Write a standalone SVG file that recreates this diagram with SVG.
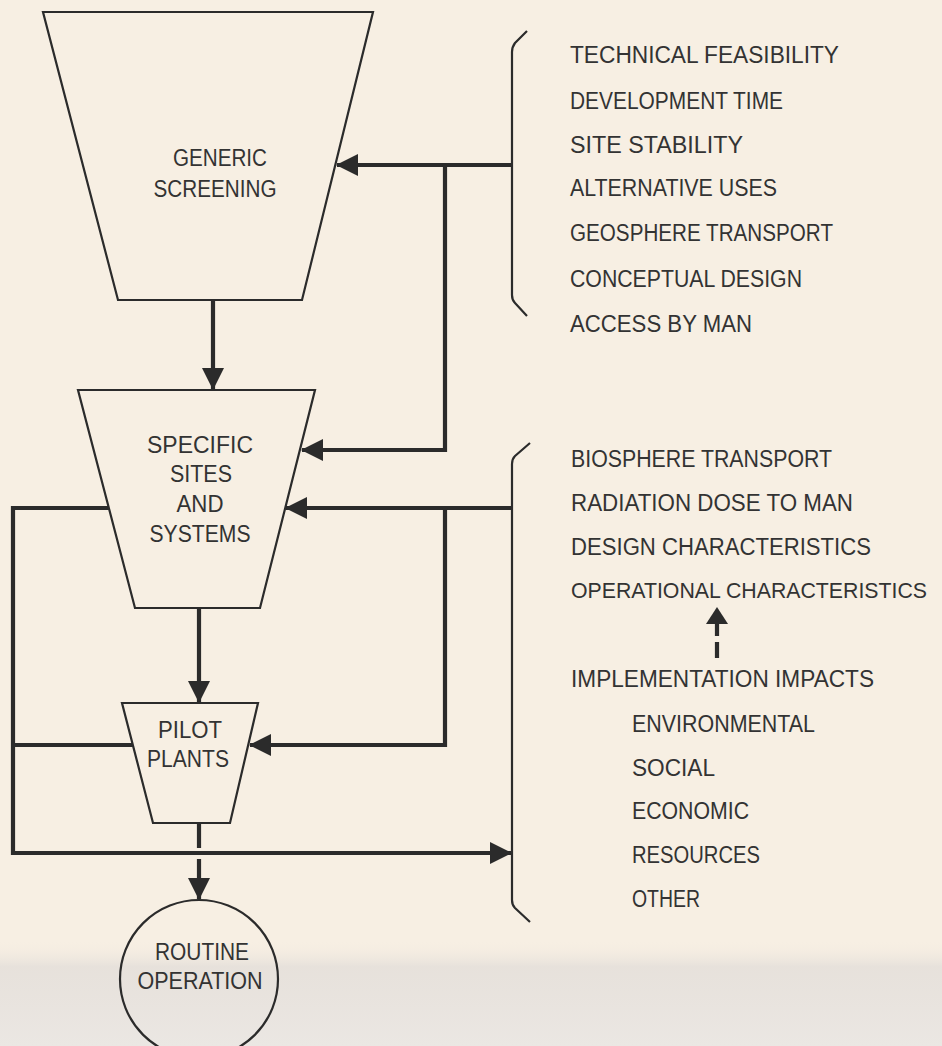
<svg xmlns="http://www.w3.org/2000/svg" width="942" height="1046" viewBox="0 0 942 1046">
<defs>
<linearGradient id="shade" x1="0" y1="0" x2="0" y2="1">
<stop offset="0" stop-color="#f6eee2" stop-opacity="0"/>
<stop offset="0.25" stop-color="#e4dfda" stop-opacity="0.85"/>
<stop offset="1" stop-color="#ebe7e3" stop-opacity="1"/>
</linearGradient>
<marker id="ah" markerUnits="userSpaceOnUse" markerWidth="22" markerHeight="22" viewBox="0 0 22 22" refX="21" refY="11" orient="auto">
<path d="M0,0 L22,11 L0,22 Z" fill="#2b2b2b"/>
</marker>
<style>
.shape{fill:none;stroke:#2b2b2b;stroke-width:2.2;stroke-linejoin:miter}
.conn{fill:none;stroke:#2b2b2b;stroke-width:4.2}
.brace{fill:none;stroke:#2b2b2b;stroke-width:2.2}
text{font-family:"Liberation Sans","DejaVu Sans",sans-serif;font-size:23.5px;fill:#333}
.c{text-anchor:middle}
.long{font-size:21.2px}
</style>
</defs>
<rect x="0" y="0" width="942" height="1046" fill="#f7efe3"/>
<rect x="0" y="940" width="942" height="106" fill="url(#shade)"/>

<g id="connectors">
<path class="conn" d="M213,300 V389" marker-end="url(#ah)"/>
<path class="conn" d="M512,165 H337" marker-end="url(#ah)"/>
<path class="conn" d="M445,165 V450 H302" marker-end="url(#ah)"/>
<path class="conn" d="M512,508 H286" marker-end="url(#ah)"/>
<path class="conn" d="M445,508 V745 H250" marker-end="url(#ah)"/>
<path class="conn" d="M199,608 V702" marker-end="url(#ah)"/>
<path class="conn" d="M109,508 H13 V853 H511" marker-end="url(#ah)"/>
<path class="conn" d="M133,745 H13"/>
<path class="conn" d="M199,823 V848"/>
<path class="conn" d="M199,859 V899" marker-end="url(#ah)"/>
<path class="conn" d="M717,658 V642 M717,636 V622"/>
<path d="M706,624 L717,607 L728,624 Z" fill="#2b2b2b"/>
</g>

<g id="generic-screening">
<path class="shape" d="M43,12 H373 L302,300 H118 Z"/>
<text class="c" x="220" y="166" textLength="94" lengthAdjust="spacingAndGlyphs">GENERIC</text>
<text class="c" x="215" y="197" textLength="123" lengthAdjust="spacingAndGlyphs">SCREENING</text>
</g>

<g id="specific-sites">
<path class="shape" d="M78,390 H315 L260,608 H135 Z"/>
<text class="c" x="200" y="453" textLength="106" lengthAdjust="spacingAndGlyphs">SPECIFIC</text>
<text class="c" x="201" y="482" textLength="62" lengthAdjust="spacingAndGlyphs">SITES</text>
<text class="c" x="200" y="512" textLength="47" lengthAdjust="spacingAndGlyphs">AND</text>
<text class="c" x="200" y="542" textLength="101" lengthAdjust="spacingAndGlyphs">SYSTEMS</text>
</g>

<g id="pilot-plants">
<path class="shape" d="M122,703 H258 L230,823 H153 Z"/>
<text class="c" x="190" y="738" textLength="64" lengthAdjust="spacingAndGlyphs">PILOT</text>
<text class="c" x="188" y="767" textLength="82" lengthAdjust="spacingAndGlyphs">PLANTS</text>
</g>

<g id="routine-operation">
<circle class="shape" cx="199" cy="979" r="79"/>
<text class="c" x="202" y="960" textLength="94" lengthAdjust="spacingAndGlyphs">ROUTINE</text>
<text class="c" x="200" y="989" textLength="125" lengthAdjust="spacingAndGlyphs">OPERATION</text>
</g>

<g id="criteria-1">
<path class="brace" d="M527,31 L515,43 Q512,47 512,52 V295 Q512,300 515,303 L527,316"/>
<text x="570" y="63" textLength="269" lengthAdjust="spacingAndGlyphs">TECHNICAL FEASIBILITY</text>
<text x="570" y="109" textLength="213" lengthAdjust="spacingAndGlyphs">DEVELOPMENT TIME</text>
<text x="570" y="153" textLength="173" lengthAdjust="spacingAndGlyphs">SITE STABILITY</text>
<text x="570" y="196" textLength="207" lengthAdjust="spacingAndGlyphs">ALTERNATIVE USES</text>
<text x="570" y="241" textLength="263" lengthAdjust="spacingAndGlyphs">GEOSPHERE TRANSPORT</text>
<text x="570" y="287" textLength="232" lengthAdjust="spacingAndGlyphs">CONCEPTUAL DESIGN</text>
<text x="570" y="332" textLength="182" lengthAdjust="spacingAndGlyphs">ACCESS BY MAN</text>
</g>

<g id="criteria-2">
<path class="brace" d="M530,443 L515,456 Q512,459 512,464 V900 Q512,905 515,908 L530,922"/>
<text x="571" y="467" textLength="261" lengthAdjust="spacingAndGlyphs">BIOSPHERE TRANSPORT</text>
<text x="571" y="511" textLength="282" lengthAdjust="spacingAndGlyphs">RADIATION DOSE TO MAN</text>
<text x="571" y="555" textLength="300" lengthAdjust="spacingAndGlyphs">DESIGN CHARACTERISTICS</text>
<text class="long" x="571" y="598" textLength="356" lengthAdjust="spacingAndGlyphs">OPERATIONAL CHARACTERISTICS</text>
<text x="571" y="687" textLength="303" lengthAdjust="spacingAndGlyphs">IMPLEMENTATION IMPACTS</text>
<text x="632" y="732" textLength="183" lengthAdjust="spacingAndGlyphs">ENVIRONMENTAL</text>
<text x="632" y="776" textLength="83" lengthAdjust="spacingAndGlyphs">SOCIAL</text>
<text x="632" y="819" textLength="117" lengthAdjust="spacingAndGlyphs">ECONOMIC</text>
<text x="632" y="863" textLength="128" lengthAdjust="spacingAndGlyphs">RESOURCES</text>
<text x="632" y="907" textLength="68" lengthAdjust="spacingAndGlyphs">OTHER</text>
</g>
</svg>
